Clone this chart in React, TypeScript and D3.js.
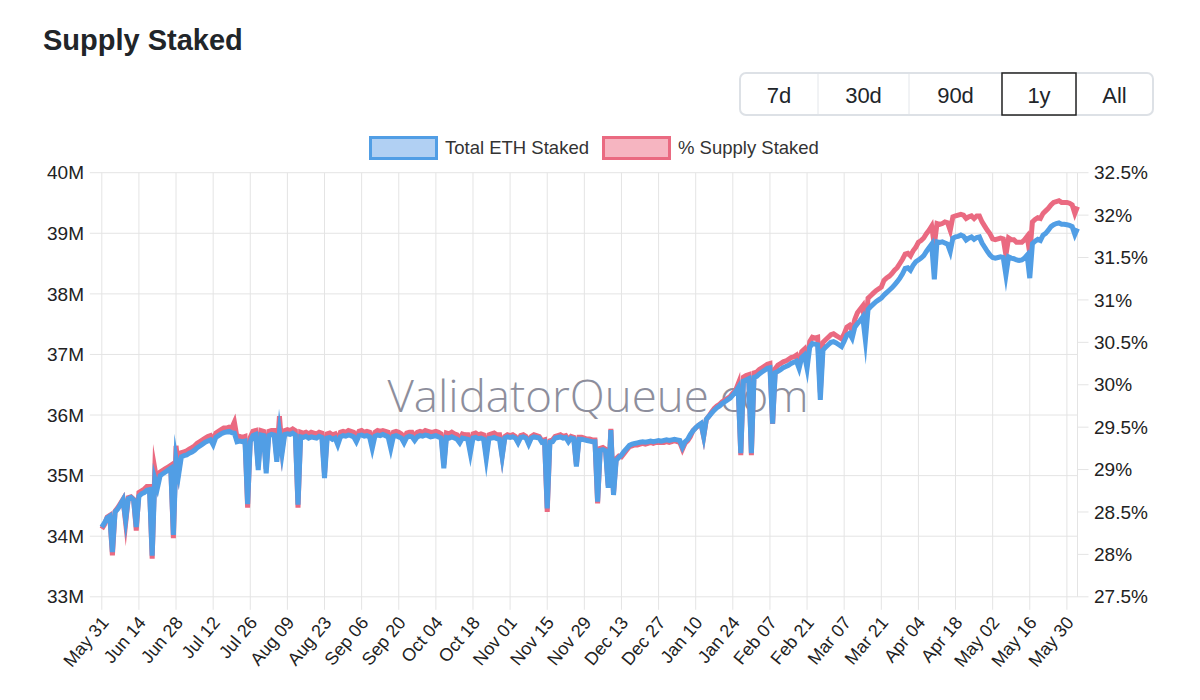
import React from "react";
import * as d3 from "d3";

// one point per day, May 31 -> Jun 03 of the next year
const tickLabels = [
  "May 31", "Jun 14", "Jun 28", "Jul 12", "Jul 26", "Aug 09", "Aug 23", "Sep 06", "Sep 20",
  "Oct 04", "Oct 18", "Nov 01", "Nov 15", "Nov 29", "Dec 13", "Dec 27", "Jan 10", "Jan 24",
  "Feb 07", "Feb 21", "Mar 07", "Mar 21", "Apr 04", "Apr 18", "May 02", "May 16", "May 30",
];
const tickEvery = 14;

// Total ETH Staked, millions
const ethStaked = [
  34.15, 34.22, 34.30, 34.33, 33.74, 34.40, 34.45, 34.52, 34.60, 34.27, 34.62, 34.64, 34.60, 34.15,
  34.66, 34.70, 34.72, 34.76, 34.77, 33.68, 34.95, 34.80, 35.00, 35.03, 35.06, 35.09, 35.12, 34.02,
  35.28, 35.02, 35.31, 35.33, 35.34, 35.37, 35.39, 35.42, 35.46, 35.49, 35.52, 35.55, 35.57, 35.59,
  35.51, 35.63, 35.66, 35.69, 35.71, 35.72, 35.73, 35.71, 35.70, 35.56, 35.57, 35.56, 35.57, 34.53,
  35.56, 35.66, 35.68, 35.09, 35.67, 35.66, 35.04, 35.66, 35.68, 35.67, 35.23, 35.72, 35.37, 35.68,
  35.69, 35.68, 35.70, 35.67, 34.52, 35.64, 35.63, 35.65, 35.62, 35.64, 35.63, 35.62, 35.65, 35.63,
  34.96, 35.62, 35.63, 35.60, 35.62, 35.51, 35.64, 35.66, 35.65, 35.67, 35.66, 35.64, 35.56, 35.66,
  35.67, 35.65, 35.66, 35.64, 35.45, 35.65, 35.67, 35.66, 35.68, 35.66, 35.64, 35.45, 35.65, 35.66,
  35.64, 35.62, 35.54, 35.63, 35.65, 35.64, 35.58, 35.64, 35.66, 35.65, 35.67, 35.66, 35.64, 35.65,
  35.66, 35.64, 35.62, 35.12, 35.63, 35.62, 35.64, 35.62, 35.60, 35.54, 35.62, 35.61, 35.60, 35.37,
  35.62, 35.63, 35.61, 35.62, 35.60, 35.28, 35.61, 35.62, 35.63, 35.61, 35.60, 35.31, 35.62, 35.64,
  35.63, 35.64, 35.62, 35.54, 35.63, 35.64, 35.62, 35.52, 35.62, 35.64, 35.63, 35.62, 35.55, 35.56,
  34.46, 35.55, 35.56, 35.62, 35.63, 35.64, 35.62, 35.63, 35.56, 35.62, 35.61, 35.15, 35.60, 35.60,
  35.59, 35.58, 35.57, 35.56, 35.56, 34.57, 35.42, 35.43, 35.41, 34.80, 35.75, 34.68, 35.25, 35.30,
  35.34, 35.40, 35.45, 35.50, 35.52, 35.53, 35.54, 35.55, 35.56, 35.55, 35.56, 35.57, 35.56, 35.57,
  35.58, 35.57, 35.58, 35.59, 35.58, 35.59, 35.60, 35.59, 35.58, 35.47, 35.56, 35.60, 35.68, 35.74,
  35.79, 35.83, 35.86, 35.65, 35.93, 35.98, 36.03, 36.08, 36.12, 36.15, 36.19, 36.22, 36.25, 36.28,
  36.33, 36.38, 36.45, 35.37, 36.56, 36.58, 36.60, 35.37, 36.62, 36.64, 36.68, 36.71, 36.74, 36.77,
  36.78, 35.86, 36.70, 36.72, 36.75, 36.78, 36.80, 36.82, 36.85, 36.87, 36.89, 36.77, 36.95, 36.99,
  36.77, 37.12, 37.18, 37.17, 37.16, 36.25, 37.07, 37.12, 37.16, 37.20, 37.21, 37.19, 37.16, 37.13,
  37.22, 37.32, 37.35, 37.27, 37.45, 37.51, 37.56, 37.62, 37.24, 37.74, 37.79, 37.83, 37.87, 37.90,
  37.93, 37.98, 38.02, 38.06, 38.10, 38.15, 38.20, 38.26, 38.33, 38.42, 38.43, 38.39, 38.47, 38.53,
  38.56, 38.59, 38.63, 38.70, 38.76, 38.82, 38.24, 38.86, 38.85, 38.86, 38.84, 38.82, 38.70, 38.92,
  38.94, 38.95, 38.97, 38.95, 38.89, 38.92, 38.94, 38.90, 38.93, 38.94, 38.84, 38.77, 38.70, 38.64,
  38.60, 38.59, 38.60, 38.61, 38.60, 38.31, 38.61, 38.59, 38.58, 38.56, 38.55, 38.56, 38.59, 38.64,
  38.26, 38.83, 38.87, 38.90, 38.88, 38.97, 39.00, 39.05, 39.11, 39.14, 39.16, 39.17, 39.15, 39.15,
  39.14, 39.13, 39.11, 38.98, 39.08,
];

// % Supply Staked
const pctStaked = [
  28.30, 28.35, 28.44, 28.46, 27.99, 28.51, 28.55, 28.60, 28.65, 28.37, 28.67, 28.68, 28.65, 28.28,
  28.73, 28.75, 28.77, 28.80, 28.80, 27.95, 29.01, 28.83, 28.97, 28.99, 29.01, 29.03, 29.05, 28.19,
  29.28, 28.99, 29.20, 29.21, 29.22, 29.24, 29.26, 29.28, 29.31, 29.33, 29.35, 29.37, 29.39, 29.40,
  29.34, 29.43, 29.45, 29.47, 29.49, 29.49, 29.50, 29.49, 29.56, 29.38, 29.39, 29.38, 29.39, 28.55,
  29.38, 29.45, 29.46, 29.04, 29.46, 29.45, 29.01, 29.45, 29.46, 29.46, 29.14, 29.63, 29.24, 29.46,
  29.47, 29.46, 29.48, 29.46, 28.55, 29.44, 29.43, 29.44, 29.42, 29.44, 29.43, 29.42, 29.44, 29.43,
  28.95, 29.42, 29.43, 29.41, 29.42, 29.34, 29.44, 29.45, 29.44, 29.46, 29.45, 29.44, 29.38, 29.45,
  29.46, 29.44, 29.45, 29.44, 29.30, 29.44, 29.46, 29.45, 29.46, 29.45, 29.44, 29.30, 29.44, 29.45,
  29.44, 29.42, 29.36, 29.43, 29.44, 29.44, 29.39, 29.44, 29.45, 29.44, 29.46, 29.45, 29.44, 29.44,
  29.45, 29.44, 29.42, 29.06, 29.43, 29.42, 29.44, 29.42, 29.41, 29.36, 29.42, 29.41, 29.41, 29.24,
  29.42, 29.43, 29.41, 29.42, 29.41, 29.18, 29.41, 29.42, 29.43, 29.41, 29.41, 29.17, 29.39, 29.41,
  29.40, 29.41, 29.39, 29.33, 29.40, 29.41, 29.39, 29.32, 29.39, 29.41, 29.40, 29.39, 29.34, 29.35,
  28.50, 29.34, 29.35, 29.39, 29.40, 29.41, 29.39, 29.40, 29.35, 29.39, 29.38, 29.06, 29.38, 29.38,
  29.37, 29.36, 29.36, 29.35, 29.35, 28.60, 29.25, 29.26, 29.24, 28.81, 29.48, 28.72, 29.13, 29.16,
  29.15, 29.19, 29.23, 29.27, 29.28, 29.29, 29.29, 29.30, 29.31, 29.30, 29.31, 29.32, 29.31, 29.32,
  29.32, 29.32, 29.32, 29.33, 29.32, 29.33, 29.34, 29.33, 29.32, 29.24, 29.31, 29.34, 29.39, 29.46,
  29.49, 29.52, 29.54, 29.39, 29.59, 29.63, 29.68, 29.72, 29.75, 29.77, 29.80, 29.82, 29.84, 29.86,
  29.90, 29.93, 30.01, 29.17, 30.09, 30.11, 30.12, 29.17, 30.14, 30.15, 30.18, 30.20, 30.22, 30.24,
  30.25, 29.54, 30.19, 30.23, 30.25, 30.27, 30.28, 30.30, 30.32, 30.33, 30.35, 30.26, 30.39, 30.42,
  30.26, 30.51, 30.56, 30.55, 30.56, 29.91, 30.50, 30.53, 30.56, 30.59, 30.60, 30.58, 30.56, 30.54,
  30.60, 30.68, 30.70, 30.64, 30.77, 30.85, 30.89, 30.93, 30.66, 31.02, 31.05, 31.08, 31.11, 31.13,
  31.15, 31.23, 31.26, 31.28, 31.31, 31.35, 31.38, 31.43, 31.48, 31.54, 31.55, 31.52, 31.58, 31.62,
  31.68, 31.70, 31.73, 31.78, 31.82, 31.87, 31.65, 31.90, 31.89, 31.90, 31.92, 31.91, 31.82, 31.98,
  31.99, 32.00, 32.01, 32.00, 31.96, 31.98, 31.99, 31.96, 31.99, 31.99, 31.92, 31.87, 31.82, 31.78,
  31.72, 31.71, 31.72, 31.73, 31.72, 31.53, 31.73, 31.71, 31.71, 31.68, 31.68, 31.68, 31.71, 31.75,
  31.55, 31.92, 31.95, 31.97, 31.96, 32.02, 32.05, 32.08, 32.12, 32.15, 32.16, 32.17, 32.15, 32.15,
  32.15, 32.14, 32.12, 32.02, 32.10,
];

const leftTicks = [33, 34, 35, 36, 37, 38, 39, 40];
const rightTicks = [27.5, 28, 28.5, 29, 29.5, 30, 30.5, 31, 31.5, 32, 32.5];
const rangeButtons = ["7d", "30d", "90d", "1y", "All"];
const activeRange = "1y";

const font = "'Liberation Sans', Arial, Helvetica, sans-serif";
const blue = "#519ee5";
const red = "#ea6a81";
const gridColor = "#e4e4e4";

const App: React.FC = () => {
  const plot = { left: 101.8, right: 1077.5, top: 172.7, bottom: 596.8 };

  const x = d3
    .scaleLinear()
    .domain([0, ethStaked.length - 1])
    .range([plot.left, plot.right]);
  const yLeft = d3.scaleLinear().domain([33, 40]).range([plot.bottom, plot.top]);
  const yRight = d3.scaleLinear().domain([27.5, 32.5]).range([plot.bottom, plot.top]);

  const ethLine = d3
    .line<number>()
    .x((_, i) => x(i))
    .y((d) => yLeft(d));
  const pctLine = d3
    .line<number>()
    .x((_, i) => x(i))
    .y((d) => yRight(d));

  // button group edges
  const btnEdges = [740, 818, 909, 1002, 1076, 1153];
  const btnTop = 73;
  const btnH = 42;

  return (
    <svg
      width={1200}
      height={700}
      style={{ position: "absolute", left: 0, top: 0, background: "#fff" }}
      fontFamily={font}
    >
      <text x={43} y={50} fontSize={29} fontWeight={700} fill="#212529">
        Supply Staked
      </text>

      {/* range buttons */}
      <rect
        x={btnEdges[0]}
        y={btnTop}
        width={btnEdges[5] - btnEdges[0]}
        height={btnH}
        rx={6}
        fill="#fff"
        stroke="#dde1e6"
        strokeWidth={2}
      />
      {btnEdges.slice(1, 5).map((bx, i) => (
        <line key={i} x1={bx} x2={bx} y1={btnTop + 1} y2={btnTop + btnH - 1} stroke="#e3e6ea" strokeWidth={1} />
      ))}
      {rangeButtons.map((label, i) => {
        const x0 = btnEdges[i];
        const x1 = btnEdges[i + 1];
        return (
          <g key={label}>
            {label === activeRange && (
              <rect x={x0} y={btnTop} width={x1 - x0} height={btnH} fill="#fff" stroke="#222" strokeWidth={1.5} />
            )}
            <text x={(x0 + x1) / 2} y={btnTop + 30} fontSize={22} textAnchor="middle" fill="#212529">
              {label}
            </text>
          </g>
        );
      })}

      {/* legend */}
      <rect x={370.5} y={137.5} width={66} height={21} fill="#b1d0f3" stroke={blue} strokeWidth={3} />
      <text x={445} y={154} fontSize={18.5} fill="#333">
        Total ETH Staked
      </text>
      <rect x={603.5} y={137.5} width={66} height={21} fill="#f6b5c1" stroke={red} strokeWidth={3} />
      <text x={678} y={154} fontSize={18.5} fill="#333">
        % Supply Staked
      </text>

      {/* grid */}
      {leftTicks.map((t) => (
        <line key={t} x1={plot.left - 12} x2={plot.right} y1={yLeft(t)} y2={yLeft(t)} stroke={gridColor} strokeWidth={1} />
      ))}
      {tickLabels.map((_, k) => (
        <line
          key={k}
          x1={x(k * tickEvery)}
          x2={x(k * tickEvery)}
          y1={plot.top}
          y2={plot.bottom + 13}
          stroke={gridColor}
          strokeWidth={1}
        />
      ))}
      <line x1={plot.right} x2={plot.right} y1={plot.top} y2={plot.bottom} stroke={gridColor} strokeWidth={1} />
      {rightTicks.map((t) => (
        <line key={t} x1={plot.right} x2={plot.right + 11} y1={yRight(t)} y2={yRight(t)} stroke={gridColor} strokeWidth={1} />
      ))}

      {/* axes labels */}
      {leftTicks.map((t) => (
        <text key={t} x={84} y={yLeft(t)} dy="0.35em" fontSize={19} textAnchor="end" fill="#222">
          {`${t}M`}
        </text>
      ))}
      {rightTicks.map((t) => (
        <text key={t} x={1094} y={yRight(t)} dy="0.35em" fontSize={19} fill="#222">
          {`${t}%`}
        </text>
      ))}
      {tickLabels.map((label, k) => {
        const tx = x(k * tickEvery) + 3;
        const ty = 619;
        return (
          <text
            key={label + k}
            transform={`translate(${tx},${ty}) rotate(-50)`}
            dy="0.35em"
            fontSize={18}
            textAnchor="end"
            fill="#222"
          >
            {label}
          </text>
        );
      })}

      {/* watermark */}
      <text
        x={598}
        y={412}
        fontSize={44}
        fontWeight={300}
        fontFamily="'Open Sans', sans-serif"
        textAnchor="middle"
        fill="#8d8e9c"
        textLength={421}
        lengthAdjust="spacingAndGlyphs"
      >
        ValidatorQueue.com
      </text>

      {/* series: % drawn first, total ETH on top */}
      <path d={pctLine(pctStaked) ?? ""} fill="none" stroke={red} strokeWidth={5} strokeMiterlimit={10} />
      <path d={ethLine(ethStaked) ?? ""} fill="none" stroke={blue} strokeWidth={5} strokeMiterlimit={10} />
    </svg>
  );
};

export default App;
